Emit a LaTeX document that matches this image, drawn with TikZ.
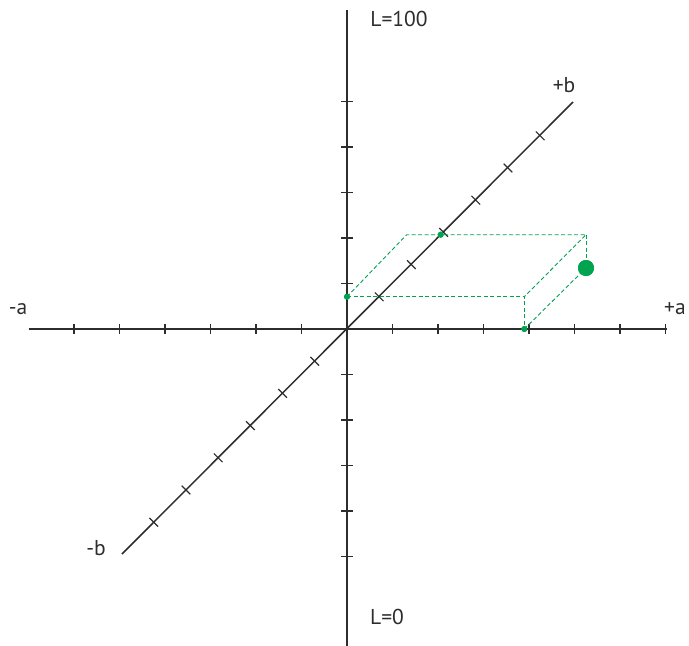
\documentclass[tikz,border=0pt]{standalone}
\usepackage{fontspec}
\setmainfont{PT Sans}
\usetikzlibrary{calc}
\definecolor{axisgray}{RGB}{45,45,45}
\definecolor{labgreen}{RGB}{0,163,78}
\tikzset{
  axisline/.style={draw=axisgray, line width=1.5pt},
  tickline/.style={draw=axisgray, line width=1.2pt},
  guide/.style={draw=labgreen, line width=0.9pt, dash pattern=on 4pt off 2.5pt},
  smalldot/.style={circle, fill=labgreen, inner sep=0pt, minimum size=6pt},
  bigdot/.style={circle, fill=labgreen, inner sep=0pt, minimum size=16pt},
  axislabel/.style={font=\fontsize{21.5}{24}\selectfont, text=axisgray, inner sep=0pt}
}
\begin{document}
\begin{tikzpicture}[x=1pt,y=-1pt]
\useasboundingbox (0,0) rectangle (689,646);
\fill[white] (0,0) rectangle (689,646);
% axis ends
\coordinate (O) at (347,329);
\coordinate (aneg) at (28.5,329);
\coordinate (apos) at (667,329);
\coordinate (Ltop) at (347,10);
\coordinate (Lbot) at (347,646);
\coordinate (bneg) at (122,554);
\coordinate (bpos) at (573,102);
\draw[axisline] (aneg) -- (apos);
\draw[axisline] (Lbot) -- (Ltop);
\draw[axisline] (bneg) -- (bpos);
% ticks on a axis
\foreach \k in {-6,...,-1,1,2,...,7}
  \draw[tickline] ($(O)+(\k*45.5,-5)$) -- ($(O)+(\k*45.5,5)$);
% ticks on L axis
\foreach \k in {-5,...,-1,1,2,...,5}
  \draw[tickline] ($(O)+(-6,\k*45.5)$) -- ($(O)+(6,\k*45.5)$);
% ticks on b axis
\foreach \k in {-6,...,-1,1,2,...,6}
  \draw[tickline] ($(O)+(\k*32.2-4.3,-\k*32.2-4.3)$) -- ($(O)+(\k*32.2+4.3,-\k*32.2+4.3)$);
% green guide box
\node[smalldot] (Ldot) at (347,296.7) {};
\node[smalldot] (adot) at (524.3,329) {};
\node[smalldot] (bdot) at (440.7,234.7) {};
\coordinate (P1) at (524.3,296.7);
\coordinate (P2) at (586,234.7);
\coordinate (P3) at (406.7,234.7);
\node[bigdot] (col) at (586,268) {};
\draw[guide] (Ldot.center) -- (P1) -- (adot.center);
\draw[guide] (Ldot.center) -- (P3) -- (bdot.center) -- (P2) -- (P1);
\draw[guide] (P2) -- (col.center);
\draw[guide] (adot.center) -- (col.center);
\node[smalldot] at (Ldot) {};
\node[smalldot] at (adot) {};
\node[smalldot] at (bdot) {};
\node[bigdot] at (col) {};
% labels
\node[axislabel] (lLtop) at (399,19) {L=100};
\node[axislabel] (lLbot) at (387,617) {L=0};
\node[axislabel] (laneg) at (18,309) {-a};
\node[axislabel] (lapos) at (675,309) {+a};
\node[axislabel] (lbpos) at (564,85) {+b};
\node[axislabel] (lbneg) at (96,548) {-b};
\end{tikzpicture}
\end{document}
